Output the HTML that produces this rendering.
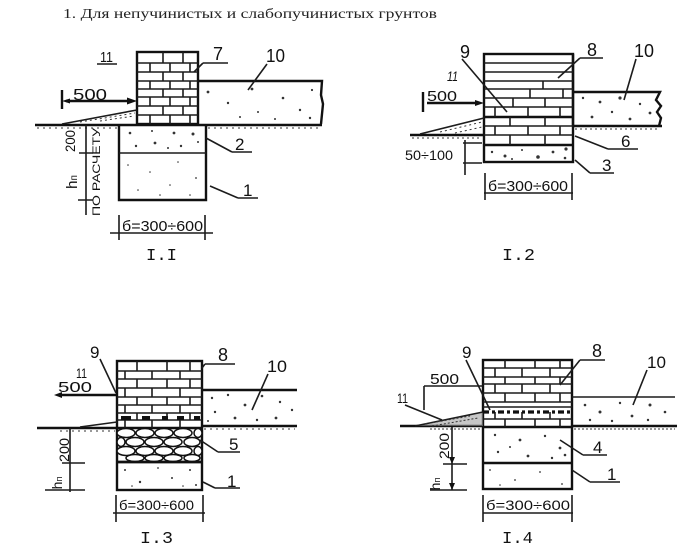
<!DOCTYPE html>
<html><head><meta charset="utf-8"><style>
html,body{margin:0;padding:0;background:#fff;}
svg{display:block}
.o{fill:none;stroke:#111;stroke-width:2.4}
.t{fill:none;stroke:#1c1c1c;stroke-width:1.6}
.th{fill:none;stroke:#333;stroke-width:1}
.k{fill:#111}
.l{font-family:"Liberation Sans",sans-serif;fill:#111}
.c{font-family:"Liberation Mono",monospace;fill:#111}
.s{fill:#333}
</style></head><body>
<svg width="700" height="560" viewBox="0 0 700 560" xmlns="http://www.w3.org/2000/svg">
<text x="63" y="18" font-family="Liberation Serif, serif" font-size="14" fill="#222" textLength="374" lengthAdjust="spacingAndGlyphs">1. Для непучинистых и слабопучинистых грунтов</text>

<!-- ============ FIGURE I.1 ============ -->
<rect x="137" y="52" width="61" height="72" class="o"/>
<path class="t" d="M137 63H198M137 72H198M137 81H198M137 89H198M137 97H198M137 106H198M137 115H198"/>
<path class="t" d="M163 52V63M183 52V63M150 63V72M170 63V72M190 63V72M163 72V81M183 72V81M150 81V89M170 81V89M190 81V89M163 89V97M183 89V97M150 97V106M170 97V106M190 97V106M163 106V115M183 106V115M150 115V124M170 115V124M190 115V124"/>
<path class="o" d="M198 81H322L321 95L323 104L321 124"/>
<path class="o" d="M35 125H322"/>
<path class="th" stroke-dasharray="2 4" d="M37 128H119M208 128H320"/>
<path class="o" d="M119 125V200H206V125"/>
<path class="t" d="M119 153H206"/>
<path class="t" d="M62 124L137 110"/>
<path class="th" stroke-dasharray="2 3" d="M80 122L135 113M100 121L134 116"/>
<g class="s">
<circle cx="130" cy="133" r="1.3"/><circle cx="152" cy="131" r="1"/><circle cx="174" cy="133" r="1.4"/><circle cx="193" cy="134" r="1.5"/><circle cx="136" cy="146" r="1.2"/><circle cx="155" cy="143" r="1.4"/><circle cx="181" cy="146" r="1.2"/><circle cx="198" cy="142" r="1"/><circle cx="168" cy="148" r="1"/>
<circle cx="128" cy="165" r=".8"/><circle cx="150" cy="172" r=".8"/><circle cx="178" cy="162" r=".8"/><circle cx="196" cy="178" r=".9"/><circle cx="138" cy="190" r=".8"/><circle cx="170" cy="185" r=".8"/><circle cx="190" cy="195" r=".8"/><circle cx="160" cy="195" r=".8"/>
<circle cx="208" cy="92" r="1.4"/><circle cx="228" cy="103" r="1.2"/><circle cx="252" cy="89" r="1.4"/><circle cx="258" cy="112" r="1"/><circle cx="283" cy="98" r="1.3"/><circle cx="300" cy="110" r="1.2"/><circle cx="312" cy="90" r="1.1"/><circle cx="240" cy="117" r="1"/><circle cx="275" cy="119" r="1"/><circle cx="310" cy="118" r="1.2"/>
</g>
<path class="o" d="M62 90V109M66 101H131"/>
<polygon class="k" points="137,101 127,97.5 127,104.5"/>
<polygon class="k" points="62,101 70,98.5 70,103.5"/>
<text class="l" x="73" y="100" font-size="16" textLength="34" lengthAdjust="spacingAndGlyphs">500</text>
<text class="l" x="100" y="62" font-size="15" textLength="13" lengthAdjust="spacingAndGlyphs">11</text>
<path class="t" d="M97 64H117"/>
<text class="l" x="213" y="60" font-size="18">7</text>
<path class="t" d="M203 63H228M203 63L194 72"/>
<text class="l" x="266" y="62" font-size="18" textLength="19" lengthAdjust="spacingAndGlyphs">10</text>
<path class="t" d="M267 64L248 90"/>
<text class="l" x="235" y="150" font-size="17">2</text>
<path class="t" d="M232 152H252M232 152L206 138"/>
<text class="l" x="243" y="196" font-size="17">1</text>
<path class="t" d="M238 198H258M238 198L210 186"/>
<path class="t" d="M86 125V215M79 153H93M78 200H93"/>
<text class="l" font-size="14" transform="translate(75,141) rotate(-90)" text-anchor="middle" textLength="22" lengthAdjust="spacingAndGlyphs">200</text>
<text class="l" font-size="15" transform="translate(77,182) rotate(-90)" text-anchor="middle">h<tspan font-size="10">п</tspan></text>
<text class="l" font-size="11" transform="translate(100,172) rotate(-90)" text-anchor="middle" textLength="88" lengthAdjust="spacingAndGlyphs">ПО РАСЧЕТУ</text>
<path class="t" d="M110 233H213M119 215V240M205 215V240"/>
<text class="l" x="122" y="231" font-size="15" textLength="81" lengthAdjust="spacingAndGlyphs">б=300÷600</text>
<text class="c" x="146" y="260" font-size="17" textLength="31" lengthAdjust="spacingAndGlyphs">I.I</text>

<!-- ============ FIGURE I.2 ============ -->
<rect x="484" y="54" width="89" height="108" class="o"/>
<path class="o" d="M573 54V126" stroke-width="3"/>
<path class="t" d="M484 63H573M484 72H573M484 81H573M484 89H573M484 98H573M484 107H573M484 126H573M484 135H573"/>
<path class="o" d="M484 117H573" stroke-width="3"/>
<path class="o" d="M484 145H573"/>
<path class="t" d="M543 81V89M530 89V98M563 89V98M513 98V107M545 98V107M495 107V117M528 107V117M560 107V117M510 117V126M545 117V126M495 126V135M528 126V135M560 126V135M510 135V145M545 135V145"/>
<path class="o" d="M573 92H660L656 100L661 106L657 112L661 118L659 126M573 126H662"/>
<path class="o" d="M410 135H484"/>
<path class="t" d="M420 134L484 118"/>
<path class="th" stroke-dasharray="2 3" d="M440 132L482 122M455 133L482 127M412 138H480M575 129H660"/>
<g class="s">
<circle cx="492" cy="152" r="1.2"/><circle cx="505" cy="156" r="1.5"/><circle cx="522" cy="150" r="1"/><circle cx="538" cy="157" r="1.8"/><circle cx="553" cy="152" r="1.4"/><circle cx="566" cy="149" r="1.6"/><circle cx="565" cy="158" r="1.3"/><circle cx="512" cy="159" r="1"/>
<circle cx="583" cy="98" r="1.2"/><circle cx="600" cy="102" r="1.4"/><circle cx="620" cy="98" r="1.6"/><circle cx="640" cy="104" r="1.2"/><circle cx="592" cy="117" r="1.4"/><circle cx="612" cy="112" r="1.2"/><circle cx="630" cy="119" r="1.4"/><circle cx="650" cy="113" r="1.4"/>
</g>
<path class="o" d="M423 92V112M427 103H478"/>
<polygon class="k" points="484,103 475,100 475,106"/>
<text class="l" x="427" y="101" font-size="15" textLength="30" lengthAdjust="spacingAndGlyphs">500</text>
<text class="l" x="447" y="81" font-size="14" font-style="italic" textLength="11" lengthAdjust="spacingAndGlyphs">11</text>
<text class="l" x="460" y="58" font-size="18">9</text>
<path class="t" d="M462 59L507 112"/>
<text class="l" x="587" y="56" font-size="18">8</text>
<path class="t" d="M580 58H603M580 58L558 78"/>
<text class="l" x="634" y="57" font-size="18" textLength="20" lengthAdjust="spacingAndGlyphs">10</text>
<path class="t" d="M636 59L624 100"/>
<text class="l" x="621" y="147" font-size="17">6</text>
<path class="t" d="M608 149H638M608 149L575 136"/>
<text class="l" x="602" y="171" font-size="17">3</text>
<path class="t" d="M590 173H614M590 173L575 160"/>
<text class="l" x="405" y="160" font-size="14" textLength="48" lengthAdjust="spacingAndGlyphs">50÷100</text>
<path class="t" d="M463 143H482M463 163H482M465 140V175"/>
<path class="t" d="M484 193H573M485 173V200M572 173V200"/>
<text class="l" x="488" y="191" font-size="15" textLength="80" lengthAdjust="spacingAndGlyphs">б=300÷600</text>
<text class="c" x="502" y="260" font-size="17" textLength="33" lengthAdjust="spacingAndGlyphs">I.2</text>

<!-- ============ FIGURE I.3 ============ -->
<rect x="117" y="361" width="85" height="129" class="o"/>
<path class="t" d="M117 371H202M117 379H202M117 388H202M117 397H202M117 405H202M117 413H202M117 420H202"/>
<path class="o" d="M117 428H202M117 462H202"/>
<path class="t" d="M137 361V371M167 361V371M190 361V371M125 371V379M152 371V379M180 371V379M137 379V388M167 379V388M190 379V388M125 388V397M152 388V397M180 388V397M137 397V405M167 397V405M190 397V405M125 405V413M152 405V413M180 405V413M137 413V420M167 413V420M190 413V420M125 420V428M152 420V428M180 420V428"/>
<g class="k"><rect x="121" y="416" width="10" height="4"/><rect x="142" y="416" width="8" height="4"/><rect x="162" y="416" width="6" height="4"/><rect x="177" y="416" width="7" height="4"/><rect x="194" y="416" width="6" height="4"/></g>
<g fill="#fff" stroke="#111" stroke-width="1.5">
<ellipse cx="126" cy="433" rx="9" ry="4.5"/><ellipse cx="145" cy="433" rx="9" ry="4.5"/><ellipse cx="164" cy="433" rx="9" ry="4.5"/><ellipse cx="183" cy="433" rx="9" ry="4.5"/><ellipse cx="198" cy="433" rx="4" ry="4.5"/>
<ellipse cx="135" cy="442" rx="9" ry="4.5"/><ellipse cx="154" cy="442" rx="9" ry="4.5"/><ellipse cx="173" cy="442" rx="9" ry="4.5"/><ellipse cx="192" cy="442" rx="8" ry="4.5"/><ellipse cx="121" cy="442" rx="4" ry="4.5"/>
<ellipse cx="126" cy="451" rx="9" ry="4.5"/><ellipse cx="145" cy="451" rx="9" ry="4.5"/><ellipse cx="164" cy="451" rx="9" ry="4.5"/><ellipse cx="183" cy="451" rx="9" ry="4.5"/><ellipse cx="198" cy="451" rx="4" ry="4.5"/>
<ellipse cx="135" cy="458" rx="9" ry="3.5"/><ellipse cx="154" cy="458" rx="9" ry="3.5"/><ellipse cx="173" cy="458" rx="9" ry="3.5"/><ellipse cx="192" cy="458" rx="8" ry="3.5"/>
</g>
<path class="o" d="M117 462H202"/>
<g class="s">
<circle cx="125" cy="470" r="1"/><circle cx="140" cy="482" r="1.2"/><circle cx="158" cy="468" r=".9"/><circle cx="172" cy="478" r="1"/><circle cx="190" cy="470" r="1"/><circle cx="196" cy="485" r="1"/><circle cx="132" cy="486" r=".8"/><circle cx="183" cy="486" r=".8"/>
<circle cx="212" cy="398" r="1.2"/><circle cx="228" cy="395" r="1.2"/><circle cx="245" cy="405" r="1.4"/><circle cx="262" cy="396" r="1.3"/><circle cx="280" cy="402" r="1.2"/><circle cx="215" cy="412" r="1.2"/><circle cx="235" cy="418" r="1.4"/><circle cx="257" cy="420" r="1.2"/><circle cx="276" cy="418" r="1.4"/><circle cx="292" cy="410" r="1.2"/><circle cx="208" cy="421" r="1"/>
</g>
<path class="o" d="M202 390H297M202 426H297"/>
<path class="o" d="M37 428H117"/>
<path class="th" stroke-dasharray="2 4" d="M60 431H115M204 429H295"/>
<path class="t" d="M80 427L117 422"/>
<path class="o" d="M58 395H117"/>
<polygon class="k" points="54,395 62,392 62,398"/>
<text class="l" x="58" y="392" font-size="15" textLength="34" lengthAdjust="spacingAndGlyphs">500</text>
<text class="l" x="76" y="378" font-size="14" textLength="11" lengthAdjust="spacingAndGlyphs">11</text>
<text class="l" x="90" y="358" font-size="17">9</text>
<path class="t" d="M100 359L116 393"/>
<text class="l" x="218" y="361" font-size="18">8</text>
<path class="t" d="M205 364H235M205 364L202 368"/>
<text class="l" x="267" y="372" font-size="17" textLength="20" lengthAdjust="spacingAndGlyphs">10</text>
<path class="t" d="M268 374L252 410"/>
<text class="l" x="229" y="450" font-size="17">5</text>
<path class="t" d="M218 452H240M218 452L200 440"/>
<text class="l" x="227" y="487" font-size="17">1</text>
<path class="t" d="M215 488H240M215 488L203 482"/>
<path class="t" d="M70 428V492M62 463H85M45 490H85"/>
<text class="l" font-size="14" transform="translate(69,450) rotate(-90)" text-anchor="middle" textLength="24" lengthAdjust="spacingAndGlyphs">200</text>
<text class="l" font-size="14" transform="translate(62,483) rotate(-90)" text-anchor="middle">h<tspan font-size="9">п</tspan></text>
<path class="t" d="M113 513H205M116 495V522M203 495V522"/>
<text class="l" x="119" y="510" font-size="14" textLength="75" lengthAdjust="spacingAndGlyphs">б=300÷600</text>
<text class="c" x="140" y="543" font-size="17" textLength="33" lengthAdjust="spacingAndGlyphs">I.3</text>

<!-- ============ FIGURE I.4 ============ -->
<rect x="483" y="360" width="89" height="129" class="o"/>
<path class="t" d="M483 368H572M483 377H572M483 384H572M483 393H572M483 402H572M483 407H572M483 419H572"/>
<path class="o" d="M483 427H572M483 463H572"/>
<path class="t" d="M505 360V368M535 360V368M560 360V368M495 368V377M522 368V377M550 368V377M505 377V384M535 377V384M560 377V384M495 384V393M522 384V393M550 384V393M505 393V402M535 393V402M560 393V402M495 412V419M522 412V419M550 412V419M505 419V427M535 419V427M560 419V427"/>
<path d="M483 412H572" stroke="#111" stroke-width="3.2" stroke-dasharray="6 3 3 3"/>
<g class="s">
<circle cx="495" cy="435" r="1.2"/><circle cx="520" cy="440" r="1.4"/><circle cx="545" cy="436" r="1.2"/><circle cx="560" cy="448" r="1.4"/><circle cx="498" cy="452" r="1.2"/><circle cx="528" cy="456" r="1.4"/><circle cx="552" cy="458" r="1.2"/><circle cx="565" cy="455" r="1.3"/><circle cx="510" cy="447" r="1"/>
<circle cx="490" cy="470" r=".9"/><circle cx="515" cy="480" r=".9"/><circle cx="540" cy="472" r=".9"/><circle cx="562" cy="484" r=".9"/><circle cx="500" cy="485" r=".8"/>
<circle cx="585" cy="405" r="1.3"/><circle cx="600" cy="412" r="1.5"/><circle cx="620" cy="403" r="1.2"/><circle cx="632" cy="416" r="1.4"/><circle cx="650" cy="405" r="1.5"/><circle cx="665" cy="412" r="1.3"/><circle cx="590" cy="420" r="1.2"/><circle cx="612" cy="421" r="1.2"/><circle cx="648" cy="420" r="1.2"/>
</g>
<path class="t" d="M572 397H675"/>
<path class="o" d="M572 426H677"/>
<path class="o" d="M400 426H483"/>
<path d="M415 426L483 412V426Z" fill="#999" opacity=".55"/>
<path class="t" d="M415 426L483 412"/>
<path class="th" stroke-dasharray="2 2" d="M425 424L470 416M432 426L478 418M430 429H480M574 429H675"/>
<path class="t" d="M424 386H483M424 386V410"/>
<text class="l" x="430" y="384" font-size="15" textLength="29" lengthAdjust="spacingAndGlyphs">500</text>
<text class="l" x="397" y="403" font-size="14" textLength="11" lengthAdjust="spacingAndGlyphs">11</text>
<path class="t" d="M405 405L442 420"/>
<text class="l" x="462" y="358" font-size="17">9</text>
<path class="t" d="M466 360L490 410"/>
<text class="l" x="592" y="357" font-size="18">8</text>
<path class="t" d="M580 360H605M580 360L560 385"/>
<text class="l" x="647" y="368" font-size="17" textLength="19" lengthAdjust="spacingAndGlyphs">10</text>
<path class="t" d="M647 370L633 405"/>
<text class="l" x="593" y="453" font-size="17">4</text>
<path class="t" d="M583 455H607M583 455L560 440"/>
<text class="l" x="607" y="480" font-size="17">1</text>
<path class="t" d="M590 482H620M590 482L572 470"/>
<path class="t" d="M452 427V490M443 464H467M430 490H467"/>
<polygon class="k" points="452,464 449,457 455,457"/>
<polygon class="k" points="452,490 449,483 455,483"/>
<text class="l" font-size="14" transform="translate(449,446) rotate(-90)" text-anchor="middle" textLength="26" lengthAdjust="spacingAndGlyphs">200</text>
<text class="l" font-size="14" transform="translate(440,484) rotate(-90)" text-anchor="middle">h<tspan font-size="9">п</tspan></text>
<path class="t" d="M483 513H573M483 495V522M572 495V522"/>
<text class="l" x="486" y="510" font-size="14" textLength="84" lengthAdjust="spacingAndGlyphs">б=300÷600</text>
<text class="c" x="502" y="543" font-size="17" textLength="31" lengthAdjust="spacingAndGlyphs">I.4</text>
</svg>
</body></html>
